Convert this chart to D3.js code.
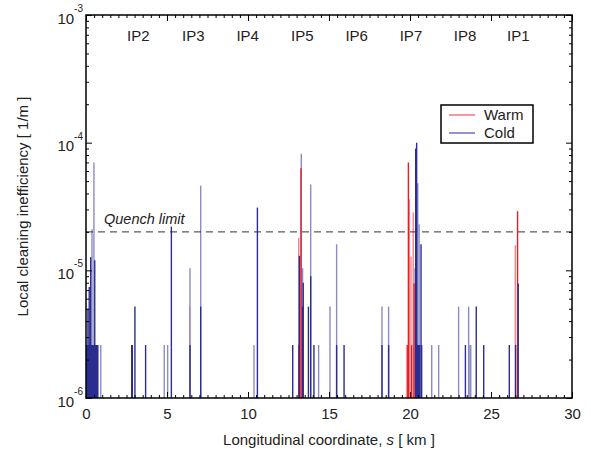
<!DOCTYPE html>
<html lang="en">
<head>
<meta charset="utf-8">
<title>cleaning inefficiency</title>
<script src="https://cdn.jsdelivr.net/npm/d3@7"></script>
<style>
  body { margin: 0; background: #fff; }
  text { font-family: "Liberation Sans", Arial, sans-serif; fill: #222; }
</style>
</head>
<body>
<script>
// ---- data: [s (km), local inefficiency (1/m)] ----
var coldDark = [
  [0.05, 2.6e-6], [0.08, 2.6e-6], [0.1, 2.6e-6], [0.12, 5.0e-6], [0.15, 2.6e-6], [0.18, 2.6e-6],
  [0.2, 7.4e-6], [0.23, 2.6e-6], [0.25, 2.6e-6], [0.29, 1.27e-5], [0.33, 2.6e-6], [0.37, 2.6e-6],
  [0.4, 2.6e-6], [0.45, 2.6e-6], [0.5, 2.6e-6], [0.54, 1.2e-5], [0.57, 2.6e-6], [0.6, 2.6e-6],
  [0.65, 2.6e-6], [0.7, 2.6e-6], [0.73, 2.6e-6],
  [2.82, 2.6e-6], [2.86, 2.6e-6], [3.02, 5.2e-6], [3.68, 2.6e-6], [5.27, 2.2e-5], [6.42, 2.6e-6],
  [7.08, 5.2e-6],
  [10.58, 3.1e-5], [12.76, 2.6e-6], [13.17, 1.3e-5], [13.37, 5.2e-6], [13.41, 8.0e-6],
  [13.73, 5.2e-6], [13.87, 9.0e-6], [14.07, 2.6e-6], [15.47, 2.6e-6], [15.93, 2.6e-6],
  [18.27, 2.6e-6], [18.68, 2.6e-6],
  [20.35, 9.0e-5], [20.41, 1.0e-4], [20.45, 2.6e-6], [20.52, 2.6e-6], [20.6, 2.6e-6],
  [20.68, 1.6e-5], [20.72, 2.6e-6],
  [23.42, 2.6e-6], [24.09, 5.2e-6], [24.55, 2.6e-6], [26.13, 2.6e-6], [26.52, 2.6e-6],
  [26.68, 7.9e-6]
];
var coldLight = [
  [0.37, 2.1e-5], [0.49, 7.0e-5], [0.91, 2.6e-6],
  [4.83, 2.6e-6], [5.04, 2.6e-6], [6.42, 1.04e-5], [7.08, 4.6e-5],
  [10.37, 2.6e-6], [13.29, 8.2e-5], [13.37, 1.04e-5], [13.87, 4.7e-5], [14.36, 2.6e-6],
  [15.06, 5.2e-6], [15.47, 1.6e-5], [18.27, 5.2e-6], [18.68, 5.2e-6],
  [20.31, 1.04e-5], [20.48, 4.8e-5], [20.56, 2.3e-5], [21.34, 2.6e-6], [21.77, 2.6e-6],
  [23.0, 5.2e-6], [23.62, 5.2e-6], [23.7, 2.6e-6], [23.75, 2.6e-6]
];
var warmDark = [
  [13.13, 2.6e-6], [13.27, 6.3e-5],
  [19.83, 2.6e-6], [19.9, 7.0e-5], [20.1, 2.6e-6], [20.25, 7.9e-6],
  [26.64, 2.9e-5]
];
var warmLight = [
  [0.04, 2.6e-6], [6.4, 5.2e-6], [13.13, 1.8e-5],
  [19.96, 3.6e-5], [20.06, 1.28e-5], [20.2, 2.85e-5],
  [26.5, 1.57e-5]
];
var ipNames = ["IP2", "IP3", "IP4", "IP5", "IP6", "IP7", "IP8", "IP1"];
var ipPos = [3.23, 6.62, 9.98, 13.35, 16.71, 20.06, 23.40, 26.69];
var xMajor = [0, 5, 10, 15, 20, 25, 30];
var yDecades = [-6, -5, -4, -3];
var quenchLimit = 2e-5;

var w = 591, h = 456;
var padL = 86, padR = 572, padT = 15, padB = 398;

var xScale = d3.scaleLinear().domain([0, 30]).range([padL, padR]);
var yScale = d3.scaleLog().domain([1e-6, 1e-3]).range([padB, padT]);

var svg = d3.select("body").append("svg")
    .attr("width", w)
    .attr("height", h);

// spikes, light first so the dark parts sit on top
var layers = [
  {data: warmLight, color: "#f3868b"},
  {data: coldLight, color: "#8b8bc9"},
  {data: warmDark, color: "#ec1c24"},
  {data: coldDark, color: "#2b2e8f"}
];
layers.forEach(function(l){
  svg.append("g").selectAll("line")
    .data(l.data)
    .enter()
    .append("line")
    .attr("x1", function(d){ return xScale(d[0]); })
    .attr("x2", function(d){ return xScale(d[0]); })
    .attr("y1", yScale(1e-6))
    .attr("y2", function(d){ return yScale(d[1]); })
    .attr("stroke", l.color)
    .attr("stroke-width", 1.4);
});

// quench limit
svg.append("line")
  .attr("x1", padL).attr("x2", padR)
  .attr("y1", yScale(quenchLimit)).attr("y2", yScale(quenchLimit))
  .attr("stroke", "#333")
  .attr("stroke-dasharray", "7,5")
  .attr("stroke-width", 1);
svg.append("text")
  .attr("x", 104).attr("y", yScale(quenchLimit) - 8)
  .style("font-size", "14.5px").style("font-style", "italic")
  .text("Quench limit");

// IP labels
svg.append("g").selectAll("text")
  .data(ipNames)
  .enter()
  .append("text")
  .attr("x", function(d, i){ return xScale(ipPos[i]); })
  .attr("y", 41)
  .attr("text-anchor", "middle")
  .style("font-size", "15px")
  .text(function(d){ return d; });

// x ticks (inward, bottom and top)
var xMinor = d3.range(0, 30.01, 0.5).filter(function(v){ return v % 5 !== 0; });
function xAx(gen, y, size, vals, fmt){
  var g = svg.append("g")
    .attr("transform", "translate(0," + y + ")")
    .call(gen(xScale).tickValues(vals).tickSize(size).tickPadding(10).tickFormat(fmt));
  g.select(".domain").remove();
  g.selectAll("line").attr("stroke", "#000");
  g.selectAll("text").style("font-size", "15px").attr("font-family", null);
  return g;
}
xAx(d3.axisBottom, padB, -6, xMajor, function(d){ return d; });
xAx(d3.axisBottom, padB, -3, xMinor, "");
xAx(d3.axisTop, padT, -6, xMajor, "");
xAx(d3.axisTop, padT, -3, xMinor, "");

// y ticks (log, inward, left and right)
var yMajor = yDecades.map(function(e){ return Math.pow(10, e); });
var yMinor = [];
yDecades.slice(0, 3).forEach(function(e){
  for (var k = 2; k <= 9; k++) yMinor.push(k * Math.pow(10, e));
});
function yAx(gen, x, size, vals){
  var g = svg.append("g")
    .attr("transform", "translate(" + x + ",0)")
    .call(gen(yScale).tickValues(vals).tickSize(size).tickFormat(""));
  g.select(".domain").remove();
  g.selectAll("line").attr("stroke", "#000");
}
yAx(d3.axisLeft, padL, -6, yMajor);
yAx(d3.axisLeft, padL, -3, yMinor);
yAx(d3.axisRight, padR, -6, yMajor);
yAx(d3.axisRight, padR, -3, yMinor);

// y tick labels 10^n
var yl = svg.append("g").selectAll("text")
  .data(yDecades)
  .enter()
  .append("text")
  .attr("x", 83)
  .attr("y", function(d){ return yScale(Math.pow(10, d)) + 8.5; })
  .attr("text-anchor", "end")
  .style("font-size", "15px");
yl.append("tspan").text("10");
yl.append("tspan")
  .attr("dy", -11.5)
  .style("font-size", "10px")
  .text(function(d){ return d; });

// frame
svg.append("rect")
  .attr("x", padL).attr("y", padT)
  .attr("width", padR - padL).attr("height", padB - padT)
  .attr("fill", "none")
  .attr("stroke", "#000")
  .attr("stroke-width", 1.5);

// axis titles
var xt = svg.append("text")
  .attr("x", (padL + padR) / 2).attr("y", 445)
  .attr("text-anchor", "middle")
  .style("font-size", "15px");
xt.append("tspan").text("Longitudinal coordinate, ");
xt.append("tspan").style("font-style", "italic").text("s");
xt.append("tspan").text(" [ km ]");

svg.append("text")
  .attr("transform", "translate(28," + ((padT + padB) / 2) + ") rotate(-90)")
  .attr("text-anchor", "middle")
  .style("font-size", "15px")
  .text("Local cleaning inefficiency [ 1/m ]");

// legend
var lg = svg.append("g").attr("transform", "translate(441,105)");
lg.append("rect")
  .attr("width", 92).attr("height", 38)
  .attr("fill", "#fff").attr("stroke", "#000").attr("stroke-width", 1.5);
var legendItems = [["Warm", "#f3767c"], ["Cold", "#6f6fbf"]];
legendItems.forEach(function(it, i){
  lg.append("line")
    .attr("x1", 8).attr("x2", 34)
    .attr("y1", 10 + i * 18).attr("y2", 10 + i * 18)
    .attr("stroke", it[1]).attr("stroke-width", 1.5);
  lg.append("text")
    .attr("x", 43).attr("y", 15 + i * 18)
    .style("font-size", "15px")
    .text(it[0]);
});
</script>
</body>
</html>
